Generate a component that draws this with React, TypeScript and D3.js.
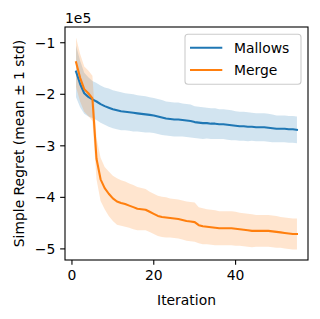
import React from "react";
import * as d3 from "d3";

// values in units of 1e5
const iterations = d3.range(1, 56);
const mallowsMean = [
  -1.56, -1.8, -1.98, -2.05, -2.1, -2.14, -2.19, -2.23, -2.26, -2.29,
  -2.31, -2.33, -2.34, -2.35, -2.36, -2.37, -2.38, -2.39, -2.4, -2.41,
  -2.43, -2.45, -2.47, -2.48, -2.49, -2.49, -2.5, -2.51, -2.52, -2.54,
  -2.55, -2.56, -2.56, -2.57, -2.57, -2.58, -2.58, -2.59, -2.6, -2.61,
  -2.62, -2.62, -2.63, -2.63, -2.64, -2.64, -2.64, -2.65, -2.66, -2.67,
  -2.67, -2.67, -2.68, -2.68, -2.69,
];
const mallowsStd = [
  0.5, 0.45, 0.4, 0.38, 0.36, 0.36, 0.36, 0.36, 0.37, 0.37,
  0.37, 0.37, 0.36, 0.36, 0.36, 0.35, 0.35, 0.35, 0.34, 0.34,
  0.34, 0.34, 0.33, 0.33, 0.33, 0.33, 0.32, 0.32, 0.32, 0.31,
  0.31, 0.31, 0.3, 0.3, 0.3, 0.29, 0.29, 0.29, 0.29, 0.28,
  0.28, 0.28, 0.28, 0.27, 0.27, 0.27, 0.27, 0.27, 0.27, 0.26,
  0.26, 0.26, 0.26, 0.26, 0.26,
];
const mergeMean = [
  -1.38, -1.68, -1.9, -1.98, -2.08, -3.25, -3.65, -3.82, -3.93, -4.02,
  -4.08, -4.11, -4.13, -4.16, -4.19, -4.22, -4.23, -4.24, -4.28, -4.32,
  -4.36, -4.38, -4.39, -4.4, -4.41, -4.42, -4.44, -4.46, -4.47, -4.48,
  -4.54, -4.56, -4.57, -4.58, -4.59, -4.6, -4.6, -4.6, -4.6, -4.61,
  -4.62, -4.63, -4.64, -4.65, -4.65, -4.65, -4.65, -4.65, -4.66, -4.67,
  -4.68, -4.69, -4.7, -4.71, -4.71,
];
const mergeStd = [
  0.48, 0.46, 0.44, 0.44, 0.44, 0.4, 0.42, 0.41, 0.43, 0.44,
  0.45, 0.44, 0.44, 0.43, 0.43, 0.42, 0.41, 0.4, 0.39, 0.39,
  0.39, 0.39, 0.39, 0.38, 0.38, 0.38, 0.38, 0.38, 0.38, 0.38,
  0.35, 0.35, 0.34, 0.34, 0.34, 0.33, 0.33, 0.33, 0.33, 0.33,
  0.32, 0.32, 0.32, 0.32, 0.31, 0.31, 0.31, 0.31, 0.31, 0.31,
  0.3, 0.3, 0.3, 0.3, 0.3,
];
const seriesNames = ["Mallows", "Merge"];
const seriesColors = ["#1f77b4", "#ff7f0e"];
const xTicks = [0, 20, 40];
const yTicks = [-1, -2, -3, -4, -5];

const W = 320, H = 319;
const L = 65, T = 27, R = 308, B = 260;
const FONT = "DejaVu Sans";
const FS = 13.9;

export default function App() {
  const series = [
    { name: seriesNames[0], mean: mallowsMean, std: mallowsStd, color: seriesColors[0] },
    { name: seriesNames[1], mean: mergeMean, std: mergeStd, color: seriesColors[1] },
  ];
  const xmin = d3.min(iterations)!, xmax = d3.max(iterations)!;
  const xpad = (xmax - xmin) * 0.05;
  const x = d3.scaleLinear().domain([xmin - xpad, xmax + xpad]).range([L, R]);
  const lo = d3.min(series, (s) => d3.min(s.mean, (m, i) => m - s.std[i]))!;
  const hi = d3.max(series, (s) => d3.max(s.mean, (m, i) => m + s.std[i]))!;
  const ypad = (hi - lo) * 0.05;
  const y = d3.scaleLinear().domain([lo - ypad, hi + ypad]).range([B, T]);

  const fmt = (v: number) => (v < 0 ? "\u2212" + Math.abs(v) : String(v));
  const tick = 4.86, pad = 4.86;

  return (
    <svg width={W} height={H} style={{ position: "absolute", left: 0, top: 0 }} fontFamily={FONT}>
      <rect width={W} height={H} fill="white" />
      {series.map((s) => {
        const area = d3
          .area<number>()
          .x((_, i) => x(iterations[i]))
          .y0((m, i) => y(m - s.std[i]))
          .y1((m, i) => y(m + s.std[i]));
        return <path key={s.name + "band"} d={area(s.mean)!} fill={s.color} fillOpacity={0.2} />;
      })}
      {series.map((s) => {
        const line = d3
          .line<number>()
          .x((_, i) => x(iterations[i]))
          .y((m) => y(m));
        return (
          <path key={s.name} d={line(s.mean)!} fill="none" stroke={s.color} strokeWidth={2.08} strokeLinejoin="round" strokeLinecap="square" />
        );
      })}
      {/* spines */}
      <rect x={L} y={T} width={R - L} height={B - T} fill="none" stroke="black" strokeWidth={1.1} />
      {xTicks.map((t) => (
        <g key={"x" + t}>
          <line x1={x(t)} x2={x(t)} y1={B} y2={B + tick} stroke="black" strokeWidth={1.1} />
          <text x={x(t)} y={B + tick + pad + 10.2} fontSize={FS} textAnchor="middle" fill="black">
            {fmt(t)}
          </text>
        </g>
      ))}
      {yTicks.map((t) => (
        <g key={"y" + t}>
          <line x1={L - tick} x2={L} y1={y(t)} y2={y(t)} stroke="black" strokeWidth={1.1} />
          <text x={L - tick - pad} y={y(t)} dy="0.36em" fontSize={FS} textAnchor="end" fill="black">
            {fmt(t)}
          </text>
        </g>
      ))}
      <text x={L} y={T - 4} fontSize={FS} fill="black">1e5</text>
      <text x={(L + R) / 2} y={305} fontSize={FS} textAnchor="middle" fill="black">Iteration</text>
      <text
        transform={`translate(23.5, ${(T + B) / 2}) rotate(-90)`}
        fontSize={FS}
        textAnchor="middle"
        fill="black"
      >
        Simple Regret (mean ± 1 std)
      </text>
      {/* legend */}
      <rect x={185} y={34.3} width={116} height={50} rx={3} fill="white" fillOpacity={0.8} stroke="#cccccc" strokeWidth={1.1} />
      {series.map((s, i) => (
        <g key={"leg" + s.name}>
          <line x1={190} x2={222.3} y1={47.7 + i * 22.3} y2={47.7 + i * 22.3} stroke={s.color} strokeWidth={2.08} />
          <text x={234} y={47.7 + i * 22.3} dy="0.36em" fontSize={FS} fill="black">
            {s.name}
          </text>
        </g>
      ))}
    </svg>
  );
}
